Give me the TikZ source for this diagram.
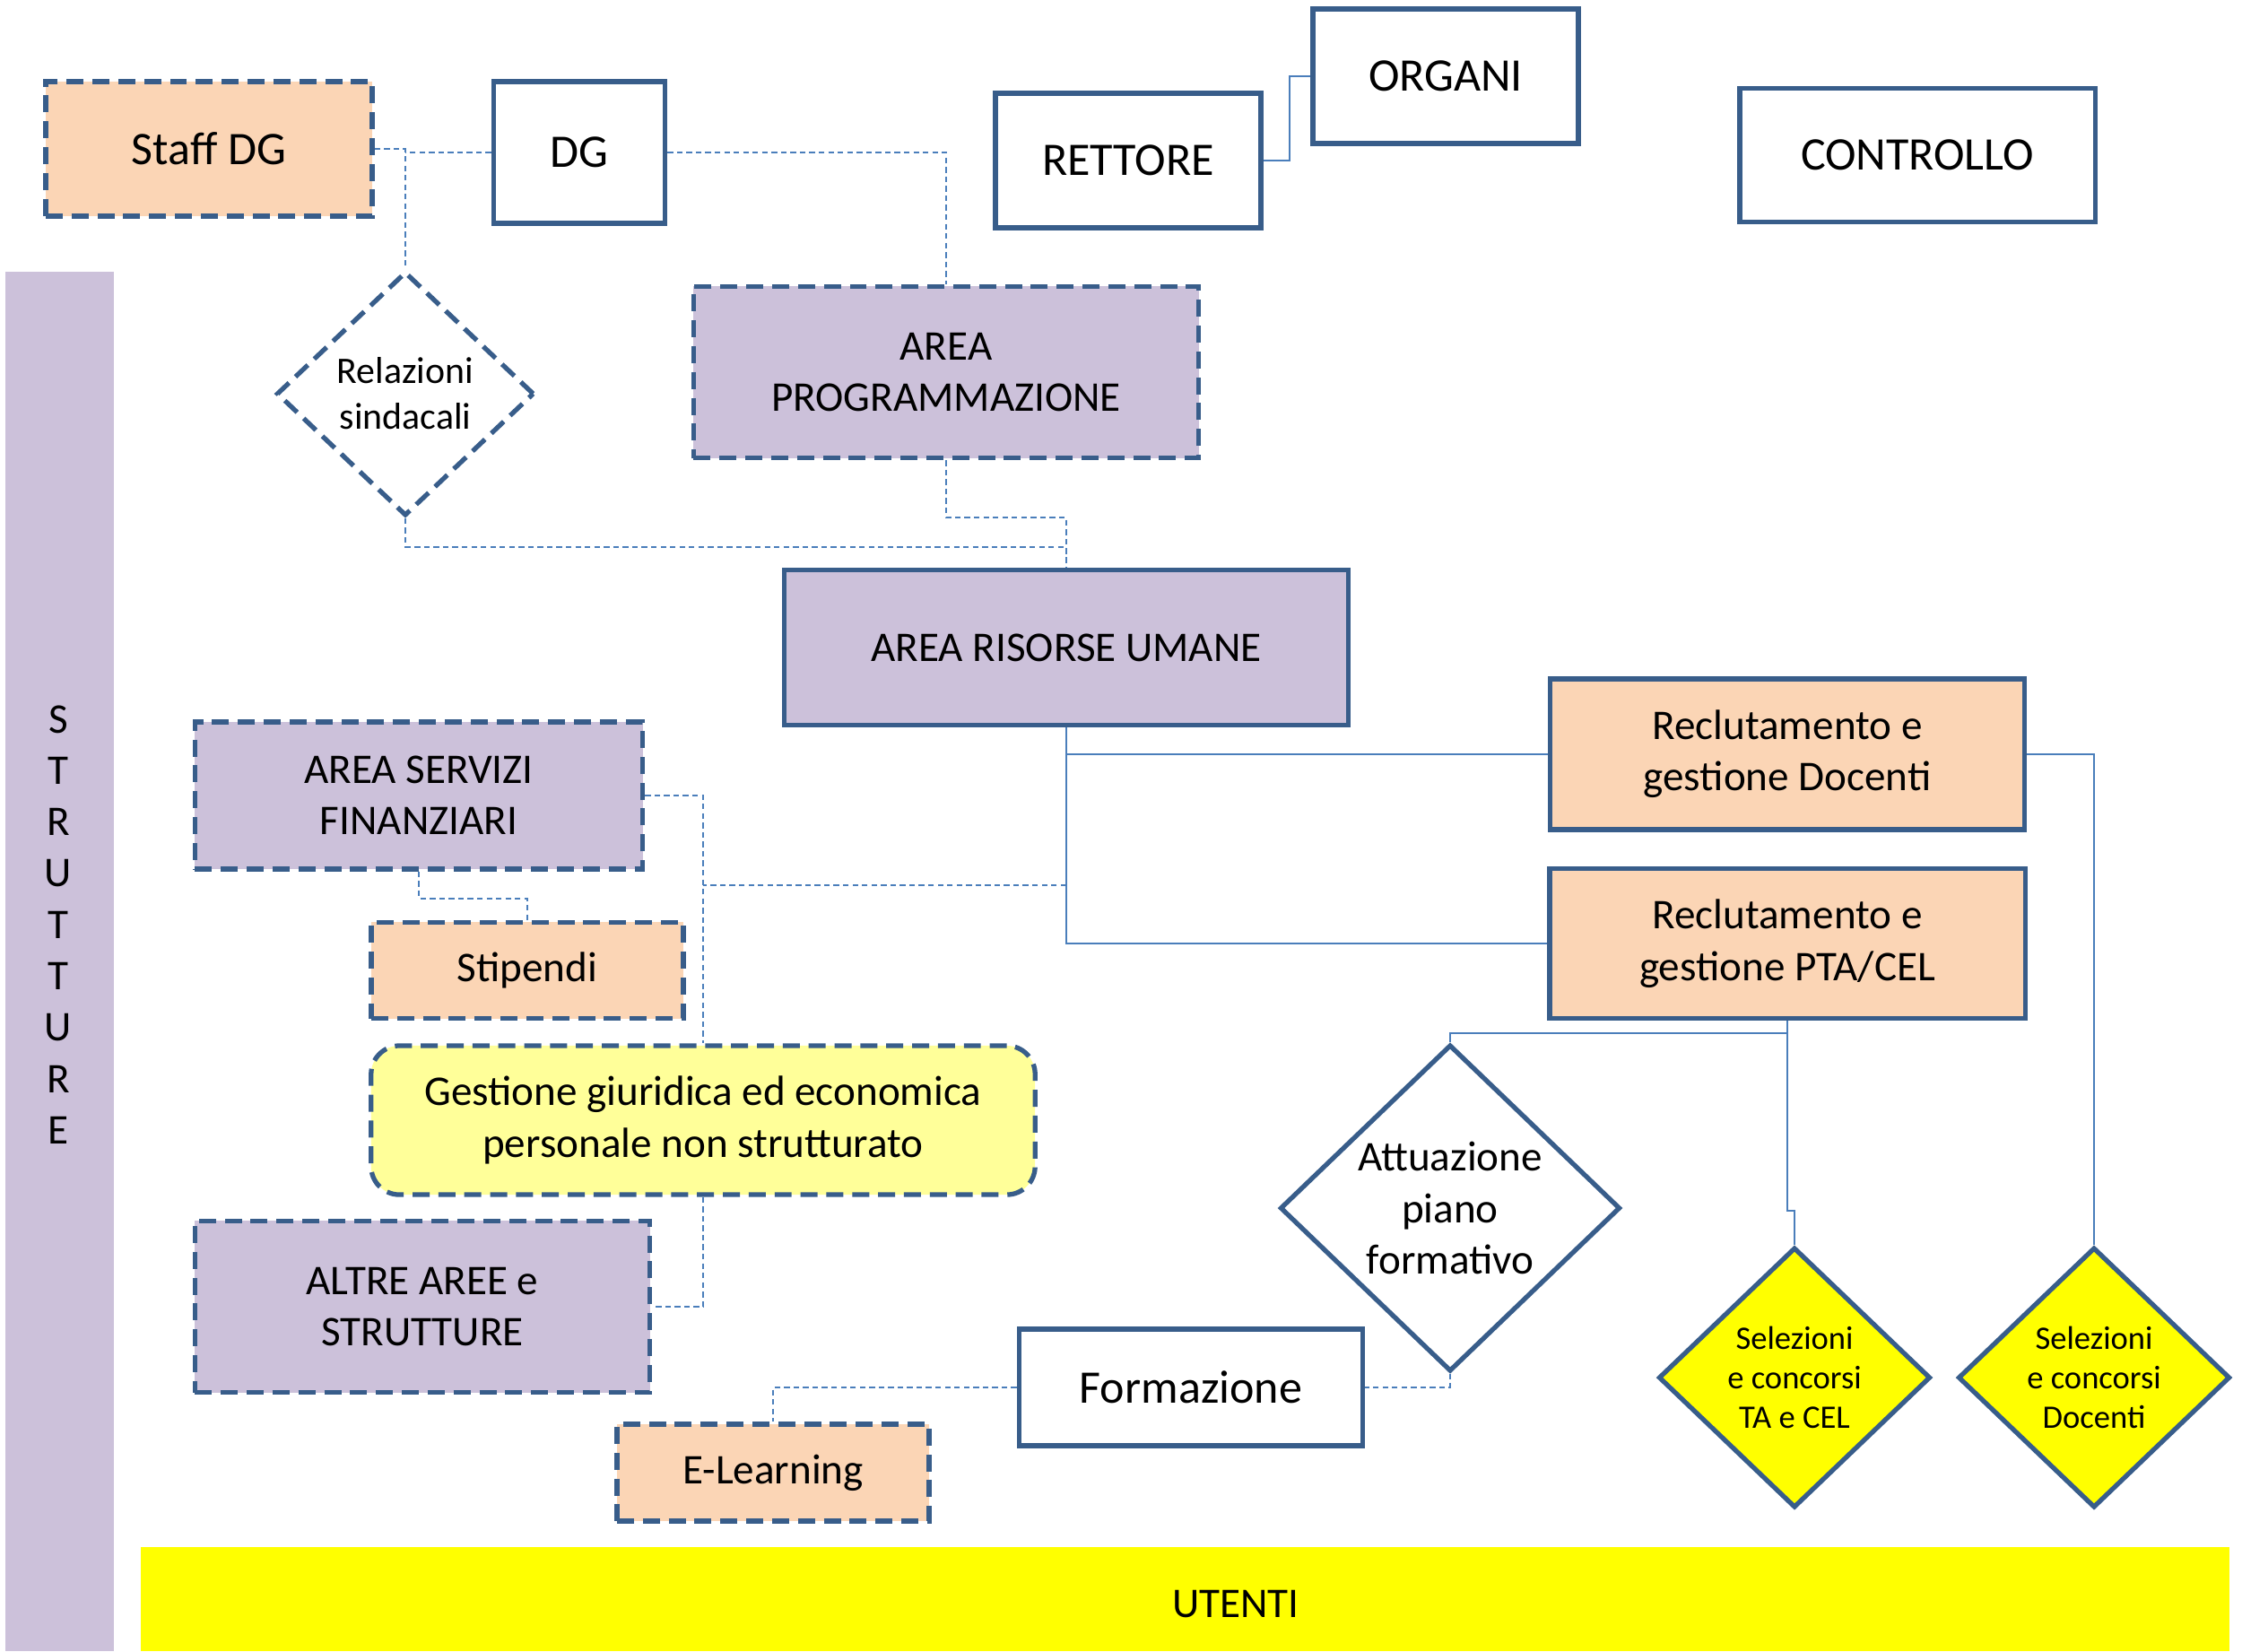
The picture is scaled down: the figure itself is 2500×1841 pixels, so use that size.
\documentclass[tikz,border=0pt]{standalone}
\usepackage{fontspec}
\setmainfont{Carlito}
\usetikzlibrary{shapes.geometric}

\definecolor{bordo}{HTML}{385D8A}
\definecolor{linea}{HTML}{4A7EBB}
\definecolor{lilla}{HTML}{CCC1DA}
\definecolor{pesca}{HTML}{FBD5B5}
\definecolor{giallino}{HTML}{FFFF99}
\definecolor{giallo}{HTML}{FFFF00}

\newcommand{\grande}{\fontsize{14.8}{17.8}\selectfont}
\newcommand{\medio}{\fontsize{13.4}{16.3}\selectfont}
\newcommand{\piccolo}{\fontsize{11.9}{14.5}\selectfont}
\newcommand{\minimo}{\fontsize{10.4}{12.6}\selectfont}

\begin{document}
\begin{tikzpicture}[x=0.01cm,y=-0.01cm,
	riquadro/.style={draw=bordo, line width=1.5pt, align=center, inner sep=2pt, font=\medio},
	tratteggio/.style={dash pattern=on 5.4pt off 2.8pt},
	rombo/.style={riquadro, diamond, inner sep=0pt},
	conn/.style={draw=linea, line width=0.6pt},
	connpunt/.style={conn, dash pattern=on 1.8pt off 1.2pt}]
			\useasboundingbox (0,0) rectangle (2500,1841);
			
			% Balken
			\fill[lilla] (6,303) rectangle (127,1841);
			\fill[giallo] (157,1725) rectangle (2486,1841);
			\node[align=center, font=\medio, inner sep=0pt] (strutture) at (65,1031) {S\\T\\R\\U\\T\\T\\U\\R\\E};
			\node[font=\medio] (utenti) at (1378,1789) {UTENTI};
			
			% Obere Reihe
			\node[riquadro, tratteggio, fill=pesca, font=\grande, minimum width=3.64cm, minimum height=1.5cm] (staff) at (233,166) {Staff DG};
			\node[riquadro, fill=white, font=\grande, minimum width=1.91cm, minimum height=1.58cm] (dg) at (646,170) {DG};
			\node[riquadro, fill=white, font=\grande, minimum width=2.96cm, minimum height=1.5cm] (rett) at (1258,179) {RETTORE};
			\node[riquadro, fill=white, font=\grande, minimum width=2.96cm, minimum height=1.5cm] (org) at (1612,85) {ORGANI};
			\node[riquadro, fill=white, font=\grande, minimum width=3.96cm, minimum height=1.49cm] (contr) at (2138,173) {CONTROLLO};
			
			% Bereiche
			\node[rombo, tratteggio, font=\piccolo, minimum width=2.87cm, minimum height=2.72cm] (rel) at (452,439) {Relazioni\\sindacali};
			\node[riquadro, tratteggio, fill=lilla, minimum width=5.63cm, minimum height=1.91cm] (prog) at (1055,415) {AREA\\PROGRAMMAZIONE};
			\node[riquadro, fill=lilla, minimum width=6.29cm, minimum height=1.73cm] (ru) at (1189,722) {AREA RISORSE UMANE};
			\node[riquadro, tratteggio, fill=lilla, minimum width=4.99cm, minimum height=1.64cm] (serv) at (467,887) {AREA SERVIZI\\FINANZIARI};
			\node[riquadro, tratteggio, fill=pesca, minimum width=3.48cm, minimum height=1.07cm] (stip) at (588,1082) {Stipendi};
			\node[riquadro, tratteggio, fill=giallino, rounded corners=9pt, minimum width=7.4cm, minimum height=1.66cm] (gest) at (784,1249) {Gestione giuridica ed economica\\personale non strutturato};
			\node[riquadro, tratteggio, fill=lilla, minimum width=5.07cm, minimum height=1.91cm] (altre) at (471,1457) {ALTRE AREE e\\STRUTTURE};
			\node[riquadro, tratteggio, fill=pesca, minimum width=3.48cm, minimum height=1.08cm] (elearn) at (862,1642) {E-Learning};
			\node[riquadro, font=\grande, minimum width=3.83cm, minimum height=1.3cm] (form) at (1328,1547) {Formazione};
			\node[rombo, minimum width=3.79cm, minimum height=3.64cm] (att) at (1617,1347) {Attuazione\\piano\\formativo};
			
			% Reclutamento
			\node[riquadro, fill=pesca, minimum width=5.29cm, minimum height=1.68cm] (doc) at (1993,841) {Reclutamento e\\gestione Docenti};
			\node[riquadro, fill=pesca, minimum width=5.3cm, minimum height=1.67cm] (pta) at (1993,1052) {Reclutamento e\\gestione PTA/CEL};
			\node[rombo, fill=giallo, font=\minimo, minimum width=3.03cm, minimum height=2.9cm] (selta) at (2001,1536) {Selezioni\\e concorsi\\TA e CEL};
			\node[rombo, fill=giallo, font=\minimo, minimum width=3.03cm, minimum height=2.9cm] (seldoc) at (2335,1536) {Selezioni\\e concorsi\\Docenti};
			
			% Verbindungen
			\coordinate (k1) at (1189,987);
			\draw[conn] (rett.east) -- ++(29,0) |- (org.west);
			\draw[connpunt] (staff.east) -| (rel.north);
			\draw[connpunt] (dg.west) -- (dg.west -| rel.north);
			\draw[connpunt] (dg.east) -| (prog.north);
			\draw[connpunt] (prog.south) -- ++(0,64) -| (ru.north);
			\draw[connpunt] (rel.south) -- ++(0,32) -| (ru.north);
			\draw[conn] (ru.south) |- (doc.west);
			\draw[conn] (ru.south) |- (pta.west);
			\draw[connpunt] (k1) -- (k1 -| gest.north);
			\draw[connpunt] (serv.east) -| (gest.north);
			\draw[connpunt] (serv.south) -- ++(0,30) -| (stip.north);
			\draw[connpunt] (gest.south) |- (altre.east);
			\draw[conn] (doc.east) -| (seldoc.north);
			\draw[conn] (pta.south) -- ++(0,14) -| (att.north);
			\draw[conn] (pta.south) -- ++(0,212) -| (selta.north);
			\draw[connpunt] (att.south) |- (form.east);
			\draw[connpunt] (form.west) -| (elearn.north);
	\end{tikzpicture}
\end{document}
